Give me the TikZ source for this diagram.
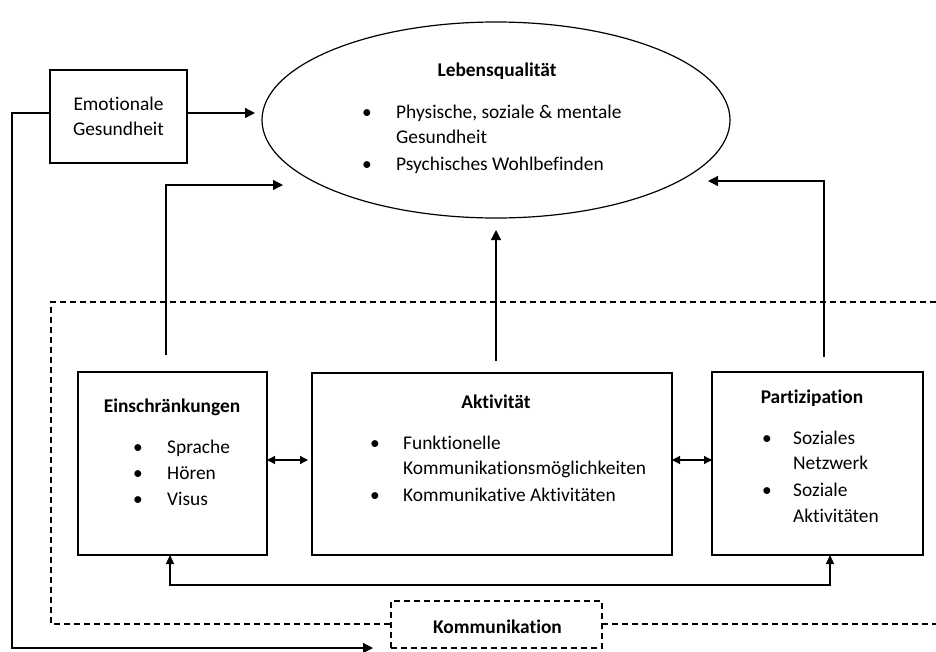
\documentclass[tikz,border=0pt]{standalone}
\usepackage{fontspec}
\setmainfont{Carlito}[Ligatures={NoCommon,NoDiscretionary,NoRare}]
\usetikzlibrary{arrows.meta,shapes.geometric}
\begin{document}
\begin{tikzpicture}[x=1pt,y=-1pt,
  font=\fontsize{19.4}{25}\selectfont,
  box/.style={draw,line width=1.4pt,inner sep=0pt,outer sep=0pt},
  dbox/.style={draw,line width=1.3pt,dash pattern=on 6pt off 4pt,inner sep=0pt,outer sep=0pt},
  conn/.style={line width=1.3pt},
  arr/.style={conn,-{Triangle[length=10pt,width=10pt]}},
  darr/.style={conn,{Triangle[length=8pt,width=8pt]}-{Triangle[length=8pt,width=8pt]}},
  dline/.style={line width=1.3pt,dash pattern=on 6pt off 4pt},
  title/.style={font=\fontsize{19.4}{25}\selectfont\bfseries,anchor=base},
  txt/.style={anchor=base west,inner sep=0pt},
  bul/.style={anchor=base,inner sep=0pt}]
\useasboundingbox (0,0) rectangle (936,651);

% nodes
\node[box,minimum width=137pt,minimum height=93pt,align=center] (emo) at (118.5,116.5) {Emotionale\\Gesundheit};
\node[draw,line width=1.2pt,ellipse,minimum width=468pt,minimum height=196pt,inner sep=0pt] (lq) at (496,120) {};
\node[box,minimum width=189pt,minimum height=183pt] (ein) at (172.5,463.5) {};
\node[box,minimum width=360pt,minimum height=182pt] (akt) at (492,464) {};
\node[box,minimum width=211pt,minimum height=183pt] (par) at (817.5,463.5) {};
\node[dbox,minimum width=211pt,minimum height=47pt] (kom) at (496.5,624.5) {};

% texts
\node[title] (lqt) at (497,76) {Lebensqualität};
\node[bul] (lqb1) at (367,118) {•};
\node[txt] (lq1) at (396,118) {Physische, soziale \& mentale};
\node[txt] (lq2) at (396,143) {Gesundheit};
\node[bul] (lqb2) at (367,170) {•};
\node[txt] (lq3) at (396,170) {Psychisches Wohlbefinden};

\node[title] (eint) at (172,412) {Einschränkungen};
\node[bul] (einb1) at (138,453) {•};
\node[txt] (ein1) at (167,453) {Sprache};
\node[bul] (einb2) at (138,479) {•};
\node[txt] (ein2) at (167,479) {Hören};
\node[bul] (einb3) at (138,505) {•};
\node[txt] (ein3) at (167,505) {Visus};

\node[title] (aktt) at (496,408) {Aktivität};
\node[bul] (aktb1) at (375,449) {•};
\node[txt] (akt1) at (403,449) {Funktionelle};
\node[txt] (akt2) at (403,474) {Kommunikationsmöglichkeiten};
\node[bul] (aktb2) at (375,501) {•};
\node[txt] (akt3) at (403,501) {Kommunikative Aktivitäten};

\node[title] (part) at (812,403) {Partizipation};
\node[bul] (parb1) at (767,444) {•};
\node[txt] (par1) at (793,444) {Soziales};
\node[txt] (par2) at (793,469) {Netzwerk};
\node[bul] (parb2) at (767,496) {•};
\node[txt] (par3) at (793,496) {Soziale};
\node[txt] (par4) at (793,522) {Aktivitäten};

\node[title] (komt) at (497.5,633) {Kommunikation};

% dashed frame
\draw[dline] (936,302) -- (51,302) -- (51,624) -- (kom.west |- 0,624);
\draw[dline] (kom.east |- 0,624) -- (936,624);

% connectors
\draw[arr] (emo.east |- 0,113) -- (255,113);
\draw[arr] (emo.west |- 0,113) -- (12,113) -- (12,648) -- (373,648);
\draw[arr] (166,355) -- (166,185) -- (283,185);
\draw[arr] (496,361) -- (496,230);
\draw[arr] (824,357) -- (824,181) -- (708,181);
\draw[darr] (ein.east |- 0,460) -- (308,460);
\draw[darr] (akt.east |- 0,460) -- (par.west |- 0,460);
\draw[conn,{Triangle[length=9pt,width=8pt]}-{Triangle[length=9pt,width=8pt]}] (ein.south -| 170,0) -- (170,585) -- (830,585) -- (par.south -| 830,0);
\end{tikzpicture}
\end{document}
